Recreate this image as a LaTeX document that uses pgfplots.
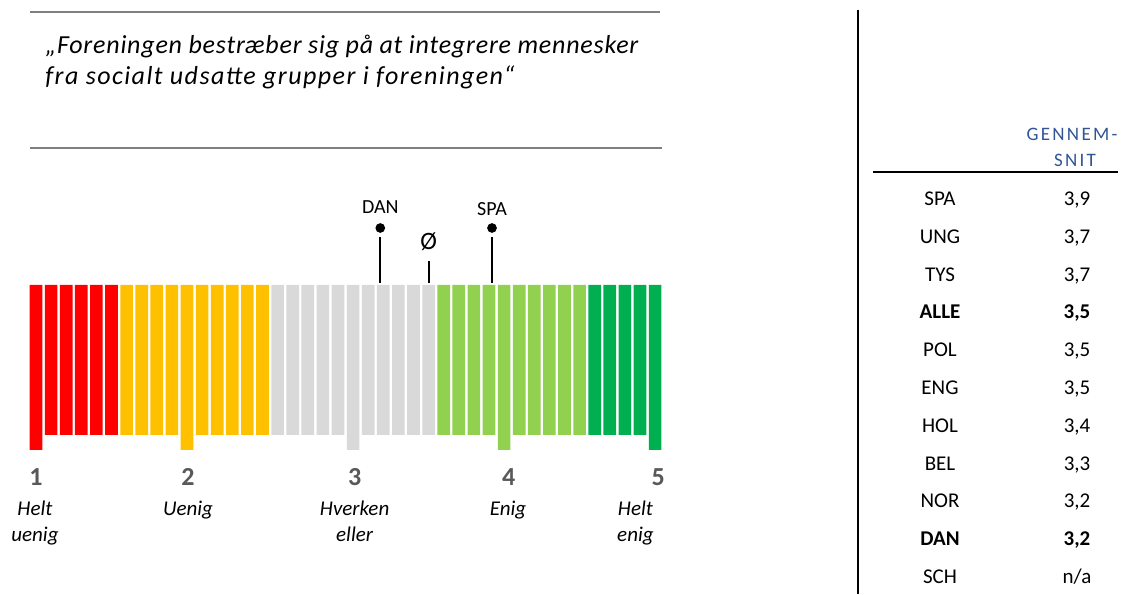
\documentclass[border=0pt]{standalone}
\usepackage{fontspec}
\setmainfont{Carlito}
\newfontfamily\spaced[LetterSpace=12]{Carlito}
\newfontfamily\titlefont[LetterSpace=3]{Carlito}
\newfontfamily\titlefontb[LetterSpace=5.5]{Carlito}
\usepackage{pgfplots}
\pgfplotsset{compat=1.18}
\definecolor{cred}{HTML}{FF0000}
\definecolor{corange}{HTML}{FFC000}
\definecolor{cgrey}{HTML}{D9D9D9}
\definecolor{clgreen}{HTML}{92D050}
\definecolor{cgreen}{HTML}{00B050}
\definecolor{rulegrey}{HTML}{808080}
\definecolor{numgrey}{HTML}{595959}
\definecolor{hblue}{HTML}{2F5597}
\begin{document}
\begin{tikzpicture}[x=0.5pt,y=0.5pt]
\useasboundingbox (0,0) rectangle (1129,594);
% title block
\draw[rulegrey, line width=1pt] (30,582) -- (660,582);
\draw[rulegrey, line width=1pt] (30,446) -- (662,446);
\node[anchor=base west, inner sep=0pt, font=\titlefont\itshape\fontsize{13}{15}\selectfont] at (45,540) {\makebox[296.5pt][s]{„Foreningen bestræber sig på at integrere mennesker}};
\node[anchor=base west, inner sep=0pt, font=\titlefontb\itshape\fontsize{13}{15}\selectfont] at (45,509) {fra socialt udsatte grupper i foreningen“};
% scale
\begin{axis}[at={(0,0)}, anchor=south west, scale only axis,
  width=350pt, height=222pt,
  xmin=-2.384, xmax=43.974, ymin=-309, ymax=135,
  hide axis, clip=false]
\addplot[ybar, bar width=0.84, bar shift=0pt, fill=cred, draw=none] coordinates {(0,-165) (1,-150) (2,-150) (3,-150) (4,-150) (5,-150)};
\addplot[ybar, bar width=0.84, bar shift=0pt, fill=corange, draw=none] coordinates {(6,-150) (7,-150) (8,-150) (9,-150) (10,-165) (11,-150) (12,-150) (13,-150) (14,-150) (15,-150)};
\addplot[ybar, bar width=0.84, bar shift=0pt, fill=cgrey, draw=none] coordinates {(16,-150) (17,-150) (18,-150) (19,-150) (20,-150) (21,-165) (22,-150) (23,-150) (24,-150) (25,-150) (26,-150)};
\addplot[ybar, bar width=0.84, bar shift=0pt, fill=clgreen, draw=none] coordinates {(27,-150) (28,-150) (29,-150) (30,-150) (31,-165) (32,-150) (33,-150) (34,-150) (35,-150) (36,-150)};
\addplot[ybar, bar width=0.84, bar shift=0pt, fill=cgreen, draw=none] coordinates {(37,-150) (38,-150) (39,-150) (40,-150) (41,-165)};
% markers
\addplot[black, line width=1pt, no marks] coordinates {(22.8,2) (22.8,48)};
\addplot[black, only marks, mark=*, mark size=2.2pt] coordinates {(22.8,57)};
\addplot[black, line width=1pt, no marks] coordinates {(30.2,2) (30.2,48)};
\addplot[black, only marks, mark=*, mark size=2.2pt] coordinates {(30.2,57)};
\addplot[black, line width=1pt, no marks] coordinates {(26,2) (26,24)};
\node[anchor=base, font=\fontsize{10}{12}\selectfont] at (axis cs:22.8,71.5) {DAN};
\node[anchor=base, font=\fontsize{10}{12}\selectfont] at (axis cs:30.2,69.5) {SPA};
\node[anchor=base, font=\fontsize{12.5}{14}\selectfont] at (axis cs:26,35) {Ø};
% scale numbers
\node[anchor=base, text=numgrey, font=\bfseries\fontsize{13}{15}\selectfont] at (axis cs:0,-201) {1};
\node[anchor=base, text=numgrey, font=\bfseries\fontsize{13}{15}\selectfont] at (axis cs:10.07,-201) {2};
\node[anchor=base, text=numgrey, font=\bfseries\fontsize{13}{15}\selectfont] at (axis cs:21.1,-201) {3};
\node[anchor=base, text=numgrey, font=\bfseries\fontsize{13}{15}\selectfont] at (axis cs:31.3,-201) {4};
\node[anchor=base, text=numgrey, font=\bfseries\fontsize{13}{15}\selectfont] at (axis cs:41.2,-201) {5};
\node[anchor=base, font=\itshape\fontsize{10.5}{12}\selectfont] at (axis cs:-0.07,-231) {Helt};
\node[anchor=base, font=\itshape\fontsize{10.5}{12}\selectfont] at (axis cs:-0.07,-257) {uenig};
\node[anchor=base, font=\itshape\fontsize{10.5}{12}\selectfont] at (axis cs:10.07,-231) {Uenig};
\node[anchor=base, font=\itshape\fontsize{10.5}{12}\selectfont] at (axis cs:21.1,-231) {Hverken};
\node[anchor=base, font=\itshape\fontsize{10.5}{12}\selectfont] at (axis cs:21.1,-257) {eller};
\node[anchor=base, font=\itshape\fontsize{10.5}{12}\selectfont] at (axis cs:31.26,-231) {Enig};
\node[anchor=base, font=\itshape\fontsize{10.5}{12}\selectfont] at (axis cs:39.7,-231) {Helt};
\node[anchor=base, font=\itshape\fontsize{10.5}{12}\selectfont] at (axis cs:39.7,-257) {enig};
\end{axis}
% separator
\draw[black, line width=1pt] (858,584) -- (858,0);
% table
\node[anchor=base, text=hblue, font=\spaced\fontsize{9.5}{11}\selectfont] at (1072,453) {GENNEM-};
\node[anchor=base, text=hblue, font=\spaced\fontsize{9.5}{11}\selectfont] at (1075,427) {SNIT};
\draw[black, line width=1pt] (873,422) -- (1118,422);
\begin{scope}[every node/.style={anchor=base, font=\fontsize{10.5}{12}\selectfont}]
\node at (940,388.5) {SPA};  \node at (1077,388.5) {3,9};
\node at (940,350.7) {UNG};  \node at (1077,350.7) {3,7};
\node at (940,312.9) {TYS};  \node at (1077,312.9) {3,7};
\node at (940,275.1) {\bfseries ALLE}; \node at (1077,275.1) {\bfseries 3,5};
\node at (940,237.3) {POL};  \node at (1077,237.3) {3,5};
\node at (940,199.5) {ENG};  \node at (1077,199.5) {3,5};
\node at (940,161.7) {HOL};  \node at (1077,161.7) {3,4};
\node at (940,123.9) {BEL};  \node at (1077,123.9) {3,3};
\node at (940,86.1) {NOR};   \node at (1077,86.1) {3,2};
\node at (940,48.3) {\bfseries DAN}; \node at (1077,48.3) {\bfseries 3,2};
\node at (940,10.5) {SCH};   \node at (1077,10.5) {n/a};
\end{scope}
\end{tikzpicture}
\end{document}
